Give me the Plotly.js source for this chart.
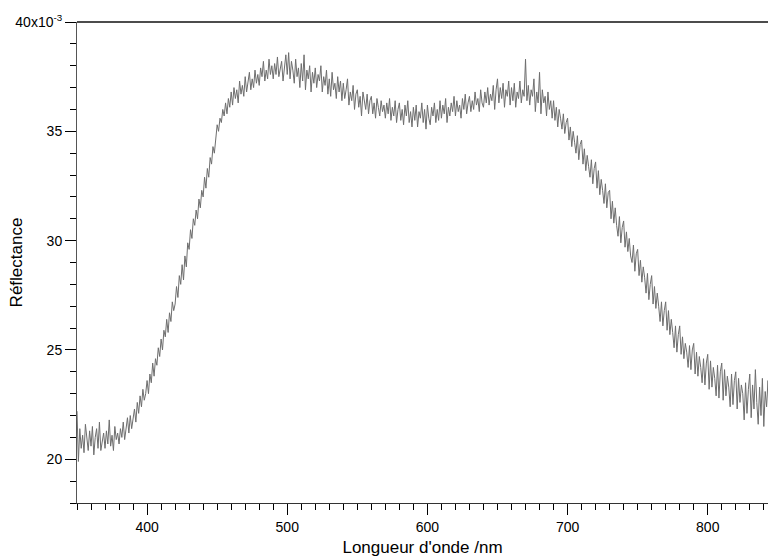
<!DOCTYPE html>
<html>
<head>
<meta charset="utf-8">
<script src="https://cdn.plot.ly/plotly-3.0.1.min.js"></script>
<style>html,body{margin:0;padding:0;background:#fff;}#chart{width:768px;height:558px;}</style>
</head>
<body>
<div id="chart"></div>
<script>
// Wavelength start/step (nm) and reflectance values (x10^-3)
const wlStart = 350;
const wlStep = 1;
const reflectance = [
  22.2, 19.9, 21.4, 20.5, 21.1, 20.3, 21.6, 20.8, 20.4, 21.3,
  20.6, 21.5, 20.2, 21.0, 21.4, 20.5, 21.7, 20.4, 20.9, 21.2,
  20.5, 21.3, 20.7, 21.8, 20.6, 21.1, 20.4, 21.5, 20.9, 21.2,
  20.7, 21.4, 21.0, 21.7, 20.9, 21.5, 21.9, 21.2, 22.0, 21.4,
  21.9, 22.3, 21.7, 22.6, 22.1, 22.9, 22.4, 23.2, 22.7, 23.0,
  23.6, 23.0, 23.9, 23.5, 24.4, 23.8, 24.6, 24.3, 25.1, 24.7,
  25.5, 25.0, 25.9, 25.6, 26.4, 25.8, 26.7, 26.3, 27.2, 26.8,
  27.1, 27.9, 27.4, 28.4, 28.0, 28.9, 28.2, 29.3, 28.8, 29.9,
  29.6, 30.5, 30.1, 31.0, 30.7, 31.4, 31.0, 31.9, 31.5, 32.3,
  32.0, 32.9, 32.4, 33.3, 32.9, 33.8, 33.5, 34.3, 34.0, 34.8,
  35.3, 35.0, 35.6, 35.4, 36.0, 35.7, 36.3, 35.8, 36.5, 36.1,
  36.8, 36.2, 37.0, 36.5, 36.9, 36.3, 37.3, 36.7, 37.1, 36.6,
  37.5, 36.8, 37.3, 37.7, 36.9, 37.4, 37.0, 37.8, 37.2, 37.6,
  37.1, 37.9, 37.5, 38.2, 37.3, 37.8, 37.4, 38.3, 37.6, 38.0,
  37.4, 38.1, 37.6, 38.4, 37.5, 37.9, 38.2, 37.3, 38.0, 38.5,
  37.6, 38.6, 37.4, 38.2, 37.8, 37.2, 38.3, 37.5, 37.9, 37.0,
  38.1, 37.3, 38.5, 36.9, 37.8, 37.4, 38.0, 36.8, 37.7, 37.2,
  37.9, 37.0, 37.6, 37.3, 38.0, 36.8, 37.5, 37.1, 37.8, 36.7,
  37.4, 36.6, 37.7, 36.9, 37.2, 36.5, 37.5, 36.8, 37.3, 36.4,
  37.2, 36.5, 36.9, 37.4, 36.2, 36.8, 36.4, 37.1, 36.0, 36.7,
  36.9, 36.1, 36.6, 35.7, 36.8, 36.3, 36.0, 36.7, 35.8, 36.4,
  36.6, 35.8, 36.3, 35.6, 36.5, 36.1, 35.7, 36.4, 35.9, 36.2,
  35.6, 36.3, 35.8, 36.5, 35.5, 36.1, 35.7, 36.4, 35.4, 36.0,
  36.3, 35.5, 36.0, 35.3, 36.2, 35.7, 36.4, 35.4, 35.9, 35.2,
  36.1, 35.5, 36.2, 35.2, 35.9, 35.6, 36.3, 35.4, 36.0, 35.1,
  36.2, 35.6, 35.3, 36.1, 35.7, 36.3, 35.4, 36.0, 35.5, 36.4,
  35.6, 36.2, 35.8, 36.5, 35.4, 36.1, 35.7, 36.3, 35.9, 36.6,
  35.7, 36.4, 35.9, 36.2, 35.6, 36.5, 36.0, 36.7, 35.8, 36.3,
  36.6, 35.9, 36.4, 36.0, 36.8, 36.2, 36.5, 35.9, 36.9, 36.3,
  36.1, 36.8, 36.3, 37.0, 36.2, 36.7, 36.4, 37.1, 36.0, 36.9,
  37.4, 36.3, 37.0, 36.5, 37.2, 36.1, 36.9, 36.6, 37.3, 36.2,
  37.0, 36.4, 37.2, 36.1, 36.8, 36.5, 37.3, 36.3, 36.9, 36.6,
  38.3, 36.4, 37.1, 36.2, 36.9, 36.6, 37.4, 35.9, 36.8, 36.3,
  37.7, 35.8, 36.9, 36.3, 36.6, 35.7, 36.8, 36.0, 36.4, 35.6,
  36.4, 35.5, 36.1, 35.2, 36.0, 35.6, 35.1, 35.8, 34.9, 35.4,
  35.6, 34.6, 35.2, 34.3, 35.0, 34.5, 34.0, 34.8, 33.7, 34.4,
  34.6, 33.5, 34.2, 33.2, 33.9, 33.4, 32.9, 33.7, 32.6, 33.3,
  33.6, 32.4, 33.2, 32.1, 32.8, 32.3, 31.7, 32.6, 31.5, 32.2,
  32.3, 31.0, 31.8, 30.8, 31.5, 30.7, 30.2, 31.1, 29.9, 30.6,
  30.9, 29.7, 30.4, 29.5, 30.1, 29.3, 29.0, 29.8, 28.6, 29.4,
  29.6, 28.4, 29.1, 28.1, 28.8, 28.3, 27.6, 28.5, 27.3, 28.0,
  28.4, 27.1, 27.9, 26.9, 27.6, 27.0, 26.3, 27.2, 26.1, 26.8,
  27.2, 25.9, 26.8, 25.7, 26.4, 25.8, 25.1, 26.1, 24.9, 25.7,
  26.1, 24.8, 25.6, 24.6, 25.3, 24.9, 24.2, 25.2, 24.1, 25.0,
  25.3, 23.9, 24.9, 23.8, 24.7, 24.2, 23.5, 24.6, 23.4, 24.4,
  24.8, 23.2, 24.5, 23.3, 24.2, 23.7, 22.9, 24.3, 22.8, 24.0,
  24.4, 22.7, 24.1, 22.9, 23.8, 23.3, 22.4, 23.9, 22.5, 23.6,
  24.0, 22.3, 23.7, 22.6, 23.4, 23.0, 21.8, 23.5, 22.1, 23.2,
  23.9, 21.9, 23.4, 22.3, 24.1, 22.6, 21.6, 23.3, 22.0, 23.7,
  21.5, 23.1, 22.4, 23.6, 21.3
];
const wavelength = reflectance.map((_, i) => wlStart + i * wlStep);

const xTickVals = [400, 500, 600, 700, 800];
const xTickText = ['400', '500', '600', '700', '800'];
const yTickVals = [20, 25, 30, 35, 40];
const yTickText = ['20', '25', '30', '35', '40x10<sup>-3</sup>'];
const xTitle = "Longueur d'onde /nm";
const yTitle = 'Réflectance';

const trace = {
  x: wavelength,
  y: reflectance,
  type: 'scatter',
  mode: 'lines',
  line: {color: '#6e6e6e', width: 1},
  hoverinfo: 'skip'
};

const layout = {
  width: 768,
  height: 558,
  margin: {l: 77, r: 0, t: 22, b: 55},
  paper_bgcolor: '#ffffff',
  plot_bgcolor: '#ffffff',
  showlegend: false,
  font: {family: 'Liberation Sans, Arial, sans-serif', size: 14, color: '#000'},
  xaxis: {
    range: [350, 843],
    showgrid: false,
    zeroline: false,
    showline: true,
    linecolor: '#333',
    linewidth: 1,
    ticks: 'outside',
    ticklen: 11,
    tickwidth: 1,
    tickcolor: '#000',
    tickvals: xTickVals,
    ticktext: xTickText,
    tickfont: {size: 14},
    minor: {dtick: 10, tick0: 350, ticks: 'outside', ticklen: 6, tickcolor: '#000', tickwidth: 1, showgrid: false},
    title: {text: xTitle, font: {size: 17}, standoff: 7}
  },
  yaxis: {
    range: [18, 40],
    showgrid: false,
    zeroline: false,
    showline: true,
    linecolor: '#555',
    linewidth: 1,
    ticks: 'outside',
    ticklen: 11,
    tickwidth: 1,
    tickcolor: '#000',
    tickvals: yTickVals,
    ticktext: yTickText,
    tickfont: {size: 14},
    minor: {dtick: 1, tick0: 18, ticks: 'outside', ticklen: 6, tickcolor: '#000', tickwidth: 1, showgrid: false}
  },
  annotations: [
    {text: yTitle, xref: 'paper', yref: 'paper', x: -0.087, y: 0.5,
     xanchor: 'center', yanchor: 'middle', textangle: -90, showarrow: false,
     font: {size: 17, color: '#000'}}
  ],
  shapes: [
    {type: 'line', xref: 'paper', yref: 'paper', x0: 0, x1: 1, y0: 1, y1: 1,
     line: {color: '#111', width: 1.3}}
  ]
};

Plotly.newPlot('chart', [trace], layout, {staticPlot: true, displayModeBar: false});
</script>
</body>
</html>
